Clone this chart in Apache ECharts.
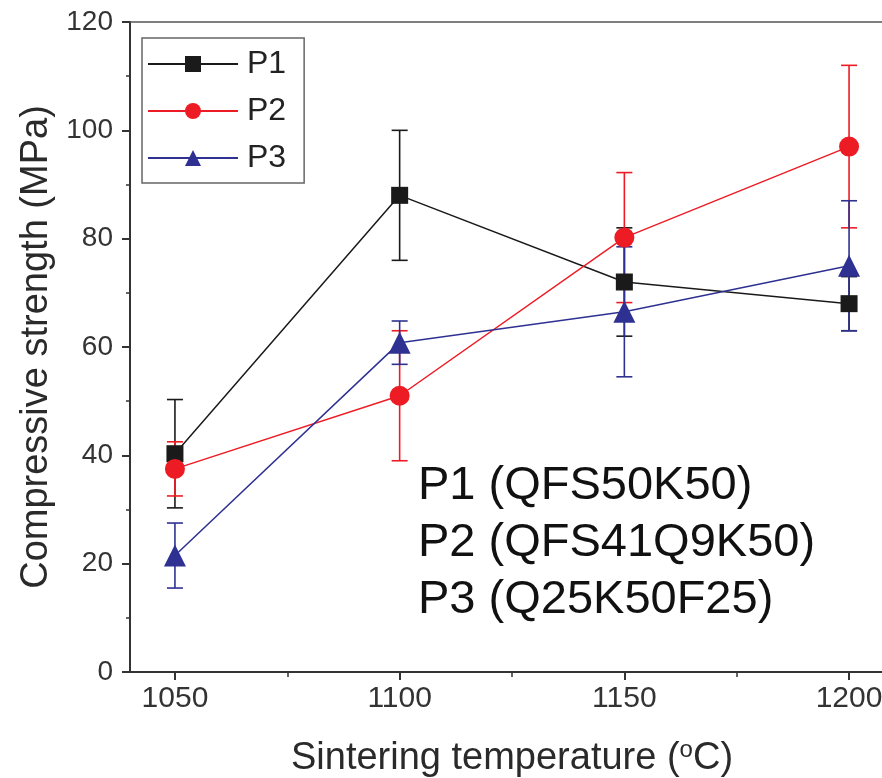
<!DOCTYPE html>
<html>
<head>
<meta charset="utf-8">
<script src="https://cdn.jsdelivr.net/npm/echarts@6/dist/echarts.min.js"></script>
<style>
html,body{margin:0;padding:0;background:#fff;}
#chart{width:882px;height:778px;}
</style>
</head>
<body>
<div id="chart"></div>
<script>
// ---- data ----
var temps = [1050, 1100, 1150, 1200];
var p1 = [40.3, 88, 72, 68];
var p1Err = [10, 12, 10, 5];
var p2 = [37.5, 51, 80.2, 97];
var p2Err = [5, 12, 12, 15];
var p3 = [21.5, 60.8, 66.5, 75];
var p3Err = [6, 4, 12, 12];
var xMajorTicks = [1050, 1100, 1150, 1200];
var xMinorTicks = [1075, 1125, 1175];
var seriesNames = ['P1', 'P2', 'P3'];
var noteLines = ['P1 (QFS50K50)', 'P2 (QFS41Q9K50)', 'P3 (Q25K50F25)'];

var colors = ['#1a1a1a', '#ed1c24', '#2e3192'];
var symbols = ['rect', 'circle', 'triangle'];
var symbolSizes = [17, 20, 22];
var FONT = 'Liberation Sans, Arial, sans-serif';
var AXIS_COLOR = '#333';

function pairs(xs, ys) { return xs.map(function (x, i) { return [x, ys[i]]; }); }
function errData(xs, ys, es) { return xs.map(function (x, i) { return [x, ys[i] - es[i], ys[i] + es[i]]; }); }

function errorSeries(name, data, color) {
  return {
    type: 'custom',
    name: name,
    data: data,
    z: 1,
    clip: false,
    encode: { x: 0, y: [1, 2] },
    renderItem: function (params, api) {
      var x = api.value(0);
      var lo = api.coord([x, api.value(1)]);
      var hi = api.coord([x, api.value(2)]);
      var w = 8;
      var st = { stroke: color, lineWidth: 1.6 };
      return {
        type: 'group',
        children: [
          { type: 'line', shape: { x1: lo[0], y1: lo[1], x2: hi[0], y2: hi[1] }, style: st },
          { type: 'line', shape: { x1: lo[0] - w, y1: lo[1], x2: lo[0] + w, y2: lo[1] }, style: st },
          { type: 'line', shape: { x1: hi[0] - w, y1: hi[1], x2: hi[0] + w, y2: hi[1] }, style: st }
        ]
      };
    }
  };
}

var vals = [p1, p2, p3];
var errs = [p1Err, p2Err, p3Err];
var series = [];
for (var i = 0; i < 3; i++) {
  series.push(errorSeries(seriesNames[i] + ' err', errData(temps, vals[i], errs[i]), colors[i]));
}
for (var j = 0; j < 3; j++) {
  series.push({
    type: 'line',
    name: seriesNames[j],
    data: pairs(temps, vals[j]),
    z: 3,
    symbol: symbols[j],
    symbolSize: symbolSizes[j],
    lineStyle: { color: colors[j], width: 1.5 },
    itemStyle: { color: colors[j] },
    animation: false
  });
}

var graphics = noteLines.map(function (t, k) {
  return {
    type: 'text', left: 418, top: 463 + k * 57, z: 10,
    style: { text: t, fontFamily: FONT, fontSize: 47, fill: '#111' }
  };
});
// white strip masking a stray edge line at the cropped right side of the plot
graphics.push({
  type: 'rect', left: 872, top: 24, z: 20,
  shape: { width: 12, height: 646 },
  style: { fill: '#fff' }
});

var chart = echarts.init(document.getElementById('chart'));
chart.setOption({
  animation: false,
  grid: {
    left: 130, top: 22, width: 764, height: 650,
    outerBoundsMode: 'none', containLabel: false,
    show: false
  },
  legend: {
    data: seriesNames,
    orient: 'vertical',
    left: 142, top: 38,
    itemWidth: 90, itemHeight: 20, itemGap: 15,
    padding: [10, 18, 9, 5],
    borderColor: '#666', borderWidth: 1.5,
    textStyle: { fontFamily: FONT, fontSize: 32, color: '#222', padding: [0, 0, 0, 4] }
  },
  xAxis: [{
    type: 'value', min: 1040, max: 1210,
    name: 'Sintering temperature ({sup|o}C)',
    nameLocation: 'middle', nameGap: 66,
    nameTextStyle: {
      fontFamily: FONT, fontSize: 38, color: '#2a2a2a',
      rich: { sup: { fontFamily: FONT, fontSize: 24, color: '#2a2a2a', padding: [0, 0, 18, 0] } }
    },
    axisLine: { show: true, onZero: false, lineStyle: { color: AXIS_COLOR, width: 2 } },
    axisTick: { show: true, length: 8, customValues: xMajorTicks, lineStyle: { color: AXIS_COLOR, width: 2 } },
    axisLabel: {
      customValues: xMajorTicks, margin: 12, fontFamily: FONT, fontSize: 30, color: '#333',
      formatter: function (v) { return String(v); }
    },
    splitLine: { show: false }
  }, {
    type: 'value', min: 1040, max: 1210, position: 'bottom',
    axisLine: { show: false, onZero: false },
    axisTick: { show: true, length: 5, customValues: xMinorTicks, lineStyle: { color: AXIS_COLOR, width: 1.5 } },
    axisLabel: { show: false },
    splitLine: { show: false }
  }, {
    type: 'value', min: 1040, max: 1210, position: 'top',
    axisLine: { show: true, onZero: false, lineStyle: { color: '#555', width: 1.5 } },
    axisTick: { show: false },
    axisLabel: { show: false },
    splitLine: { show: false }
  }],
  yAxis: {
    type: 'value', min: 0, max: 120, interval: 20,
    name: 'Compressive strength (MPa)',
    nameLocation: 'middle', nameGap: 71,
    nameTextStyle: { fontFamily: FONT, fontSize: 38, color: '#2a2a2a' },
    axisLine: { show: true, onZero: false, lineStyle: { color: AXIS_COLOR, width: 2 } },
    axisTick: { show: true, length: 8, lineStyle: { color: AXIS_COLOR, width: 2 } },
    minorTick: { show: true, splitNumber: 2, length: 4, lineStyle: { color: AXIS_COLOR, width: 1.5 } },
    axisLabel: { margin: 17, fontFamily: FONT, fontSize: 28, color: '#333' },
    splitLine: { show: false }
  },
  graphic: graphics,
  series: series
});
</script>
</body>
</html>
